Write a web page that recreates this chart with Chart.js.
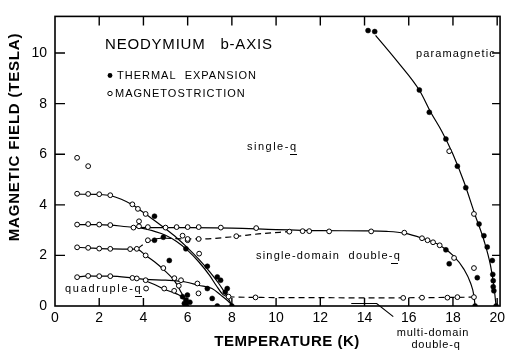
<!DOCTYPE html>
<html>
<head>
<meta charset="utf-8">
<script src="https://cdn.jsdelivr.net/npm/chart.js@4.4.1/dist/chart.umd.min.js"></script>
<style>
  html, body { margin: 0; padding: 0; background: #fff; }
  #wrap { width: 509px; height: 352px; }
</style>
</head>
<body>
<div id="wrap"><canvas id="ndChart"></canvas></div>
<script>
// Tick labels
const xTicks = [0, 2, 4, 6, 8, 10, 12, 14, 16, 18, 20];
const yTicks = [0, 2, 4, 6, 8, 10];

// Phase boundaries, solid lines [T (K), B (T)]
const boundaryTop = [[1, 4.42], [2, 4.41], [2.5, 4.37], [3, 4.22], [3.5, 4.0], [4, 3.7], [4.5, 3.38], [5, 3.05], [5.5, 2.7], [6, 2.3], [6.5, 1.85], [7, 1.35], [7.4, 0.9], [7.7, 0.5], [7.9, 0.2], [8.02, 0]];
const boundaryLong = [[1, 3.22], [2, 3.22], [2.5, 3.2], [3.5, 3.12], [5, 3.1], [8, 3.08], [10, 3.02], [12, 2.98], [14, 2.97], [15, 2.95], [15.8, 2.88], [16.6, 2.68], [17.4, 2.4], [18, 2.0], [18.5, 1.45], [18.8, 0.9], [18.95, 0.4], [19.0, 0]];
const boundaryBranch = [[3.7, 3.12], [4.5, 2.95], [5, 2.8], [5.5, 2.55], [6, 2.2], [6.5, 1.75], [7, 1.2], [7.3, 0.8], [7.6, 0.45], [7.85, 0.36]];
const boundaryMid = [[1, 2.32], [1.5, 2.3], [2, 2.27], [2.5, 2.26], [3.4, 2.25], [3.7, 2.25], [4.1, 2.0], [4.5, 1.75], [4.9, 1.45], [5.4, 1.0], [5.7, 0.55], [5.9, 0.2], [6.0, 0]];
const boundaryLow = [[1, 1.14], [1.5, 1.19], [2, 1.18], [2.5, 1.18], [3.5, 1.11], [4.1, 1.05], [5, 1.02], [5.9, 0.95], [6.5, 0.82], [7.1, 0.69], [7.5, 0.43], [7.8, 0.22], [8.05, 0]];
const boundaryLowDrop = [[4.0, 1.03], [4.5, 0.85], [5.0, 0.64], [5.5, 0.48], [5.85, 0.28], [6.05, 0]];
const boundaryPara = [[14.5, 10.7], [15.5, 9.65], [16.5, 8.5], [17, 7.65], [17.5, 6.9], [18, 6.0], [18.5, 4.9], [19, 3.6], [19.4, 2.6], [19.7, 1.6], [19.85, 0.8], [19.95, 0]];

// Phase boundaries, dashed lines
const dashedUpper = [[3.75, 2.28], [4.2, 2.55], [4.9, 2.68], [6, 2.65], [6.5, 2.65], [8.2, 2.75], [9.2, 2.85], [10.6, 2.94]];
const dashedLower = [[7.85, 0.36], [9, 0.34], [12, 0.33], [14, 0.32], [16.6, 0.33], [18.95, 0.35]];

// Measured points
const thermalExpansion = [
  [14.16, 10.89], [14.46, 10.85], [16.48, 8.54], [16.93, 7.66], [17.68, 6.6], [18.2, 5.53], [18.58, 4.68],
  [19.18, 3.24], [19.4, 2.78], [19.55, 2.33], [19.78, 1.8], [19.8, 1.25], [19.82, 1.0], [19.82, 0.76], [19.85, 0.6], [19.95, 0],
  [17.68, 2.22], [17.83, 1.67], [19.1, 1.12], [19.0, 0],
  [4.5, 3.55], [5.92, 2.26], [6.89, 1.57], [7.34, 1.15], [7.49, 1.02], [7.79, 0.69], [7.7, 0.55], [5.17, 1.8],
  [4.5, 2.6], [4.9, 2.72],
  [5.77, 0.37], [5.92, 0.24], [5.99, 0.43], [6.1, 0.15], [5.85, 0.1], [6.89, 0.69], [7.11, 0.3],
  [5.92, 0], [7.34, 0], [8.0, 0]
];
const magnetostriction = [
  [1, 5.86], [1.5, 5.53], [4.12, 0.69],
  [1, 4.44], [1.5, 4.43], [2, 4.42], [2.5, 4.38], [3.5, 4.02], [3.75, 3.84], [4.1, 3.64],
  [1, 3.22], [1.5, 3.24], [2, 3.22], [2.5, 3.2], [3.55, 3.1], [3.8, 3.35], [3.8, 3.15],
  [4.2, 3.12], [5.0, 3.1], [5.5, 3.12], [6.0, 3.12], [6.5, 3.12], [7.5, 3.1], [9.1, 3.08],
  [10.6, 2.94], [11.2, 2.96], [11.5, 2.96], [12.4, 2.95], [14.3, 2.95], [15.8, 2.9], [16.6, 2.68],
  [16.85, 2.6], [17.1, 2.52], [17.4, 2.4], [18.05, 1.9], [18.95, 1.5], [18.95, 3.64], [17.83, 6.12],
  [4.2, 2.6], [5.77, 2.78], [6.0, 2.6], [6.52, 2.07], [6.0, 2.65], [6.5, 2.65], [8.2, 2.76],
  [1, 2.32], [1.5, 2.3], [2, 2.27], [2.5, 2.26], [3.4, 2.25], [3.7, 2.26], [4.1, 2.0], [4.9, 1.5], [5.4, 1.1], [5.6, 0.8],
  [1, 1.14], [1.5, 1.19], [2, 1.18], [2.5, 1.18], [3.5, 1.11], [3.7, 1.09], [4.1, 1.02],
  [4.94, 0.69], [5.39, 0.6], [5.7, 1.02], [6.44, 0.89], [6.49, 0.5],
  [7.85, 0.37], [9.07, 0.34], [15.75, 0.32], [16.6, 0.33], [17.75, 0.33], [18.2, 0.35], [18.95, 0.35]
];

const toXY = arr => arr.map(p => ({ x: p[0], y: p[1] }));

function lineSet(data, dashed) {
  return {
    data: toXY(data),
    showLine: true,
    borderColor: '#000',
    borderWidth: 1.2,
    borderDash: dashed ? [6, 4] : [],
    pointRadius: 0,
    cubicInterpolationMode: 'monotone',
    order: 2
  };
}

const FONT = "'Liberation Sans', Arial, sans-serif";

// Frame, inward ticks and text labels
const figurePlugin = {
  id: 'figurePlugin',
  afterDraw(chart) {
    const ctx = chart.ctx;
    const xs = chart.scales.x, ys = chart.scales.y;
    const { left, right, top, bottom } = chart.chartArea;
    ctx.save();
    ctx.strokeStyle = '#000';
    ctx.fillStyle = '#000';

    // frame
    ctx.lineWidth = 1.6;
    ctx.strokeRect(left, top, right - left, bottom - top);

    // inward ticks
    ctx.lineWidth = 1.4;
    ctx.beginPath();
    xTicks.forEach(v => {
      const px = xs.getPixelForValue(v);
      if (px <= left + 1 || px >= right - 1) return;
      ctx.moveTo(px, bottom); ctx.lineTo(px, bottom - 8);
      ctx.moveTo(px, top); ctx.lineTo(px, top + 9);
    });
    yTicks.forEach(v => {
      const py = ys.getPixelForValue(v);
      if (py >= bottom - 1) return;
      ctx.moveTo(left, py); ctx.lineTo(left + 10, py);
      ctx.moveTo(right, py); ctx.lineTo(right - 8, py);
    });
    ctx.stroke();

    // pointer for the multi-domain label
    ctx.lineWidth = 1.1;
    ctx.beginPath();
    ctx.moveTo(xs.getPixelForValue(13.4), ys.getPixelForValue(0.1));
    ctx.lineTo(xs.getPixelForValue(14.55), ys.getPixelForValue(0.1));
    ctx.lineTo(xs.getPixelForValue(15.3), ys.getPixelForValue(-0.42));
    ctx.stroke();

    const text = (str, x, y, font, spacing, align) => {
      ctx.font = font;
      ctx.letterSpacing = (spacing || 0) + 'px';
      ctx.textAlign = align || 'left';
      ctx.textBaseline = 'alphabetic';
      ctx.fillText(str, x, y);
    };

    text('NEODYMIUM   b-AXIS', 105, 48.5, '15px ' + FONT, 0.8);

    // legend
    ctx.beginPath(); ctx.arc(110, 75.5, 2.4, 0, Math.PI * 2); ctx.fill();
    ctx.lineWidth = 1;
    ctx.beginPath(); ctx.arc(110, 93.5, 2.2, 0, Math.PI * 2); ctx.stroke();
    text('THERMAL  EXPANSION', 117, 79, '11px ' + FONT, 1);
    text('MAGNETOSTRICTION', 115, 97, '11px ' + FONT, 1);

    // phase labels
    text('single-q', 247, 150, '11px ' + FONT, 1.5);
    text('paramagnetic', 416, 57, '11px ' + FONT, 1.1);
    text('single-domain  double-q', 256, 259, '11px ' + FONT, 1.2);
    text('quadruple-q', 65, 292, '11px ' + FONT, 1.7);
    text('multi-domain', 433, 336, '11px ' + FONT, 0.8, 'center');
    text('double-q', 436, 348, '11px ' + FONT, 0.8, 'center');

    // underlined q's
    ctx.lineWidth = 1;
    ctx.beginPath();
    ctx.moveTo(290, 154.5); ctx.lineTo(297, 154.5);
    ctx.moveTo(391, 263.5); ctx.lineTo(398, 263.5);
    ctx.moveTo(135, 296.5); ctx.lineTo(142, 296.5);
    ctx.stroke();

    // axis titles
    text('TEMPERATURE (K)', 287, 346, 'bold 15px ' + FONT, 0.5, 'center');
    ctx.save();
    ctx.translate(19, 137);
    ctx.rotate(-Math.PI / 2);
    text('MAGNETIC FIELD (TESLA)', 0, 0, 'bold 15px ' + FONT, 0.8, 'center');
    ctx.restore();

    ctx.restore();
  }
};

new Chart(document.getElementById('ndChart'), {
  type: 'scatter',
  data: {
    datasets: [
      {
        label: 'Thermal expansion',
        data: toXY(thermalExpansion),
        pointStyle: 'circle',
        pointRadius: 2.5,
        backgroundColor: '#000',
        borderColor: '#000',
        borderWidth: 0.5,
        order: 0
      },
      {
        label: 'Magnetostriction',
        data: toXY(magnetostriction),
        pointStyle: 'circle',
        pointRadius: 2.4,
        backgroundColor: '#fff',
        borderColor: '#000',
        borderWidth: 1,
        order: 1
      },
      lineSet(boundaryTop),
      lineSet(boundaryLong),
      lineSet(boundaryBranch),
      lineSet(boundaryMid),
      lineSet(boundaryLow),
      lineSet(boundaryLowDrop),
      lineSet(boundaryPara),
      lineSet(dashedUpper, true),
      lineSet(dashedLower, true)
    ]
  },
  options: {
    responsive: true,
    maintainAspectRatio: false,
    animation: false,
    layout: { padding: { top: 14, right: 6, left: 0, bottom: 0 } },
    plugins: {
      legend: { display: false },
      tooltip: { enabled: false }
    },
    scales: {
      x: {
        type: 'linear',
        min: 0,
        max: 20.13,
        afterBuildTicks: s => { s.ticks = xTicks.map(v => ({ value: v })); },
        afterFit: s => { s.height = 46; },
        grid: { display: false, drawTicks: false },
        border: { display: false },
        ticks: { color: '#000', padding: 4, maxRotation: 0, font: { family: FONT, size: 14 } }
      },
      y: {
        type: 'linear',
        min: 0,
        max: 11.45,
        afterBuildTicks: s => { s.ticks = yTicks.map(v => ({ value: v })); },
        afterFit: s => { s.width = 55; },
        grid: { display: false, drawTicks: false },
        border: { display: false },
        ticks: { color: '#000', padding: 8, font: { family: FONT, size: 14 } }
      }
    }
  },
  plugins: [figurePlugin]
});
</script>
</body>
</html>
